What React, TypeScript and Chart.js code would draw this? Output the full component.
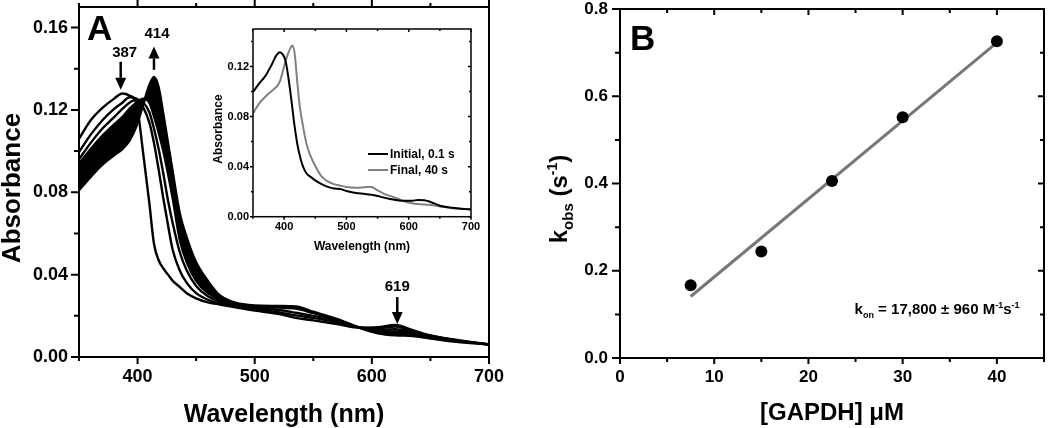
import React, { useEffect, useRef } from 'react';
import { Chart, registerables } from 'chart.js';

Chart.register(...registerables);

const FONT = "'Liberation Sans', Arial, Helvetica, sans-serif";

// ---------------- Panel A : spectra ----------------
const WAVELENGTH = [350, 360, 370, 380, 387, 393, 399, 405, 410, 414, 418, 422, 426, 430, 436, 442, 450, 460, 470, 480, 490, 500, 520, 535, 550, 570, 590, 605, 620, 635, 650, 670, 700];
const ABS_INITIAL = [0.106, 0.115, 0.121, 0.1255, 0.128, 0.127, 0.123, 0.098, 0.075, 0.055, 0.047, 0.043, 0.040, 0.037, 0.034, 0.031, 0.0285, 0.0265, 0.0255, 0.0245, 0.0235, 0.0225, 0.021, 0.019, 0.0178, 0.016, 0.0142, 0.0145, 0.0156, 0.013, 0.0105, 0.0085, 0.006];
const ABS_T2 = [0.0995, 0.108, 0.115, 0.1205, 0.1235, 0.1262, 0.1255, 0.121, 0.114, 0.104, 0.091, 0.077, 0.064, 0.052, 0.042, 0.036, 0.031, 0.0278, 0.026, 0.025, 0.024, 0.023, 0.0218, 0.0202, 0.019, 0.017, 0.0143, 0.014, 0.0148, 0.0126, 0.0103, 0.0083, 0.006];
const ABS_T3 = [0.096, 0.104, 0.111, 0.1165, 0.1205, 0.1235, 0.125, 0.1235, 0.119, 0.111, 0.101, 0.089, 0.076, 0.065, 0.051, 0.042, 0.0345, 0.0295, 0.027, 0.0256, 0.0246, 0.0238, 0.0228, 0.0215, 0.020, 0.0176, 0.0143, 0.0132, 0.0135, 0.012, 0.010, 0.0081, 0.0061];
const ABS_T4 = [0.094, 0.101, 0.1075, 0.113, 0.1165, 0.1205, 0.1235, 0.1255, 0.1235, 0.117, 0.109, 0.100, 0.089, 0.077, 0.057, 0.046, 0.037, 0.031, 0.0278, 0.0262, 0.0251, 0.0245, 0.024, 0.0235, 0.0213, 0.0183, 0.0142, 0.0126, 0.0124, 0.0115, 0.0098, 0.008, 0.0062];
const ABS_FINAL = [0.081, 0.0875, 0.0935, 0.098, 0.101, 0.105, 0.112, 0.123, 0.132, 0.136, 0.131, 0.118, 0.104, 0.090, 0.070, 0.058, 0.046, 0.037, 0.030, 0.027, 0.0256, 0.025, 0.0248, 0.0245, 0.022, 0.0185, 0.014, 0.0115, 0.0105, 0.0102, 0.009, 0.0075, 0.006];

const A_X_TICKS = [400, 500, 600, 700];
const A_X_MINOR = [350, 450, 550, 650];
const A_Y_TICKS = [0, 0.04, 0.08, 0.12, 0.16];
const A_Y_MINOR = [0.02, 0.06, 0.10, 0.14];
const PEAK_LABELS = ['387', '414', '619'];

// ---------------- Inset ----------------
const INSET_WL = [350, 360, 370, 380, 387, 393, 398, 402, 406, 410, 413, 417, 421, 425, 430, 436, 442, 450, 460, 470, 480, 490, 500, 515, 530, 540, 550, 560, 575, 590, 605, 615, 625, 635, 650, 670, 700];
const INSET_INITIAL = [0.0997, 0.1065, 0.1125, 0.1215, 0.1285, 0.1315, 0.1295, 0.125, 0.114, 0.0995, 0.0875, 0.0715, 0.0585, 0.049, 0.0405, 0.0345, 0.032, 0.029, 0.026, 0.0238, 0.0225, 0.0222, 0.0205, 0.019, 0.0182, 0.0175, 0.0165, 0.0153, 0.0137, 0.0128, 0.0128, 0.0133, 0.0132, 0.0118, 0.0088, 0.0072, 0.0058];
const INSET_FINAL = [0.0825, 0.0905, 0.096, 0.1005, 0.1035, 0.108, 0.1165, 0.124, 0.130, 0.1345, 0.1368, 0.130, 0.108, 0.0885, 0.0732, 0.058, 0.049, 0.0405, 0.0322, 0.0282, 0.026, 0.0248, 0.0238, 0.0232, 0.0236, 0.0238, 0.021, 0.0185, 0.0158, 0.0128, 0.0108, 0.0101, 0.0097, 0.0094, 0.0082, 0.0068, 0.0059];
const INSET_SERIES = ['Initial, 0.1 s', 'Final, 40 s'];
const IN_X_TICKS = [400, 500, 600, 700];
const IN_X_MINOR = [350, 450, 550, 650];
const IN_Y_TICKS = [0, 0.04, 0.08, 0.12];
const IN_Y_MINOR = [0.02, 0.06, 0.10, 0.14];

// ---------------- Panel B : kinetics ----------------
const GAPDH_UM = [7.5, 15, 22.5, 30, 40];
const KOBS = [0.167, 0.244, 0.406, 0.552, 0.726];
const FIT_X = [7.5, 40];
const FIT_Y = [0.141, 0.723];
const B_X_TICKS = [0, 10, 20, 30, 40];
const B_X_MINOR = [5, 15, 25, 35, 45];
const B_Y_TICKS = [0, 0.2, 0.4, 0.6, 0.8];
const B_Y_MINOR = [0.1, 0.3, 0.5, 0.7];

const pts = (xs: number[], ys: number[]) => xs.map((x, i) => ({ x, y: ys[i] }));

type Part = { t: string; size: number; dy?: number };
function drawRich(ctx: CanvasRenderingContext2D, parts: Part[], x: number, y: number, rot: number, align: 'left' | 'center') {
  ctx.save();
  ctx.translate(x, y);
  if (rot) ctx.rotate(rot);
  ctx.fillStyle = '#000';
  ctx.textAlign = 'left';
  ctx.textBaseline = 'alphabetic';
  let total = 0;
  const widths = parts.map((p) => {
    ctx.font = `bold ${p.size}px ${FONT}`;
    const w = ctx.measureText(p.t).width;
    total += w;
    return w;
  });
  let cx = align === 'center' ? -total / 2 : 0;
  parts.forEach((p, i) => {
    ctx.font = `bold ${p.size}px ${FONT}`;
    ctx.fillText(p.t, cx, p.dy || 0);
    cx += widths[i];
  });
  ctx.restore();
}

function drawArrow(ctx: CanvasRenderingContext2D, x: number, yTail: number, yTip: number) {
  const dir = yTip > yTail ? 1 : -1;
  const head = 12;
  const hw = 5.5;
  ctx.save();
  ctx.strokeStyle = '#000';
  ctx.fillStyle = '#000';
  ctx.lineWidth = 2.5;
  ctx.beginPath();
  ctx.moveTo(x, yTail);
  ctx.lineTo(x, yTip - dir * head);
  ctx.stroke();
  ctx.beginPath();
  ctx.moveTo(x, yTip);
  ctx.lineTo(x - hw, yTip - dir * head);
  ctx.lineTo(x + hw, yTip - dir * head);
  ctx.closePath();
  ctx.fill();
  ctx.restore();
}

type SideSpec = { major: number; minor: number; out: boolean } | null;
interface FrameSpec {
  lineWidth: number;
  xMajor: number[];
  xMinor: number[];
  yMajor: number[];
  yMinor: number[];
  left: SideSpec;
  right: SideSpec;
  top: SideSpec;
  bottom: SideSpec;
}

function makeFrame(f: FrameSpec) {
  return {
    id: 'frame',
    afterDatasetsDraw(chart: any) {
      const { ctx, chartArea: ca } = chart;
      const xs = chart.scales.x;
      const ys = chart.scales.y;
      ctx.save();
      ctx.strokeStyle = '#000';
      ctx.lineWidth = f.lineWidth;
      ctx.strokeRect(ca.left, ca.top, ca.right - ca.left, ca.bottom - ca.top);
      ctx.beginPath();
      const hor = (s: SideSpec, y0: number, outDir: number) => {
        if (!s) return;
        const d = s.out ? outDir : -outDir;
        f.xMajor.forEach((v) => { const p = xs.getPixelForValue(v); ctx.moveTo(p, y0); ctx.lineTo(p, y0 + d * s.major); });
        f.xMinor.forEach((v) => { const p = xs.getPixelForValue(v); ctx.moveTo(p, y0); ctx.lineTo(p, y0 + d * s.minor); });
      };
      const ver = (s: SideSpec, x0: number, outDir: number) => {
        if (!s) return;
        const d = s.out ? outDir : -outDir;
        f.yMajor.forEach((v) => { const p = ys.getPixelForValue(v); ctx.moveTo(x0, p); ctx.lineTo(x0 + d * s.major, p); });
        f.yMinor.forEach((v) => { const p = ys.getPixelForValue(v); ctx.moveTo(x0, p); ctx.lineTo(x0 + d * s.minor, p); });
      };
      hor(f.bottom, ca.bottom, 1);
      hor(f.top, ca.top, -1);
      ver(f.left, ca.left, -1);
      ver(f.right, ca.right, 1);
      ctx.stroke();
      ctx.restore();
    },
  };
}

function axis(opts: {
  min: number; max: number; ticks: number[]; fmt: (v: number) => string; size: number;
  tickLength: number; padding: number; fitW?: number; fitH?: number;
}) {
  return {
    type: 'linear' as const,
    min: opts.min,
    max: opts.max,
    afterBuildTicks: (s: any) => { s.ticks = opts.ticks.map((value) => ({ value })); },
    afterFit: (s: any) => {
      if (opts.fitW !== undefined) s.width = opts.fitW;
      if (opts.fitH !== undefined) s.height = opts.fitH;
    },
    grid: { display: true, drawOnChartArea: false, drawTicks: true, tickLength: opts.tickLength, color: 'rgba(0,0,0,0)' },
    border: { display: false },
    ticks: {
      padding: opts.padding,
      autoSkip: false,
      maxRotation: 0,
      minRotation: 0,
      color: '#000',
      font: { size: opts.size, weight: 'bold' as const, family: FONT },
      callback: (v: any) => opts.fmt(Number(v)),
    },
  };
}

const baseOpts = {
  animation: false as const,
  responsive: false,
  maintainAspectRatio: false,
  events: [] as any[],
  plugins: { legend: { display: false }, tooltip: { enabled: false } },
};

function configA(): any {
  const line = (label: string, ys: number[], extra: any = {}) => ({
    label,
    data: pts(WAVELENGTH, ys),
    borderColor: '#000',
    borderWidth: 2.4,
    pointRadius: 0,
    cubicInterpolationMode: 'monotone',
    fill: false,
    ...extra,
  });
  const decor = {
    id: 'decorA',
    afterDraw(chart: any) {
      const { ctx, chartArea: ca } = chart;
      const xs = chart.scales.x;
      const ys = chart.scales.y;
      drawRich(ctx, [{ t: 'A', size: 35 }], ca.left + 8, ca.top + 33, 0, 'left');
      drawRich(ctx, [{ t: 'Absorbance', size: 26 }], ca.left - 59, ca.top + 181, -Math.PI / 2, 'center');
      drawRich(ctx, [{ t: 'Wavelength (nm)', size: 25 }], (ca.left + ca.right) / 2, ca.bottom + 65, 0, 'center');
      const geo = [
        { wl: 385.6, tail: 0.1434, tip: 0.1298, dx: 4, gap: 5 },
        { wl: 414, tail: 0.1395, tip: 0.1508, dx: 3, gap: 9 },
        { wl: 621.7, tail: 0.0291, tip: 0.016, dx: 0, gap: 6 },
      ];
      geo.forEach((g, i) => {
        const px = xs.getPixelForValue(g.wl);
        const pTail = ys.getPixelForValue(g.tail);
        const pTip = ys.getPixelForValue(g.tip);
        drawArrow(ctx, px, pTail, pTip);
        drawRich(ctx, [{ t: PEAK_LABELS[i], size: 15 }], px + g.dx, Math.min(pTail, pTip) - g.gap, 0, 'center');
      });
    },
  };
  return {
    type: 'line',
    data: {
      datasets: [
        line('initial', ABS_INITIAL),
        line('t2', ABS_T2),
        line('t3', ABS_T3),
        line('t4', ABS_T4, { fill: { target: 4 }, backgroundColor: '#000' }),
        line('final', ABS_FINAL),
      ],
    },
    options: {
      ...baseOpts,
      layout: { padding: { top: 27, right: 41, left: 0, bottom: 0 } },
      scales: {
        x: axis({ min: 350, max: 700, ticks: A_X_TICKS, fmt: (v) => String(v), size: 18, tickLength: 7, padding: 2, fitH: 71 }),
        y: axis({ min: 0, max: 0.17, ticks: A_Y_TICKS, fmt: (v) => v.toFixed(2), size: 18, tickLength: 8, padding: 3, fitW: 79 }),
      },
    },
    plugins: [
      makeFrame({
        lineWidth: 2,
        xMajor: A_X_TICKS, xMinor: A_X_MINOR, yMajor: A_Y_TICKS, yMinor: A_Y_MINOR,
        left: { major: 8, minor: 5, out: true },
        bottom: { major: 7, minor: 4, out: true },
        top: { major: 7, minor: 4, out: true },
        right: null,
      }),
      decor,
    ],
  };
}

function configInset(): any {
  const colors = ['#000', '#808080'];
  const decor = {
    id: 'decorInset',
    afterDraw(chart: any) {
      const { ctx, chartArea: ca } = chart;
      drawRich(ctx, [{ t: 'Absorbance', size: 12 }], ca.left - 31, ca.top + 100, -Math.PI / 2, 'center');
      drawRich(ctx, [{ t: 'Wavelength (nm)', size: 12 }], (ca.left + ca.right) / 2, ca.bottom + 33.5, 0, 'center');
      INSET_SERIES.forEach((label, i) => {
        const y = ca.top + 125 + i * 16;
        ctx.save();
        ctx.strokeStyle = colors[i];
        ctx.lineWidth = 2;
        ctx.beginPath();
        ctx.moveTo(ca.left + 115, y);
        ctx.lineTo(ca.left + 135, y);
        ctx.stroke();
        ctx.restore();
        drawRich(ctx, [{ t: label, size: 12 }], ca.left + 137, y + 4, 0, 'left');
      });
    },
  };
  return {
    type: 'line',
    data: {
      datasets: [
        { label: INSET_SERIES[0], data: pts(INSET_WL, INSET_INITIAL), borderColor: colors[0], borderWidth: 2, pointRadius: 0, cubicInterpolationMode: 'monotone', fill: false },
        { label: INSET_SERIES[1], data: pts(INSET_WL, INSET_FINAL), borderColor: colors[1], borderWidth: 2, pointRadius: 0, cubicInterpolationMode: 'monotone', fill: false },
      ],
    },
    options: {
      ...baseOpts,
      layout: { padding: { top: 29, right: 14, left: 0, bottom: 0 } },
      scales: {
        x: axis({ min: 350, max: 700, ticks: IN_X_TICKS, fmt: (v) => String(v), size: 11, tickLength: 3, padding: 1, fitH: 45.3 }),
        y: axis({ min: 0, max: 0.15, ticks: IN_Y_TICKS, fmt: (v) => v.toFixed(2), size: 11, tickLength: 3, padding: 1, fitW: 53 }),
      },
    },
    plugins: [
      makeFrame({
        lineWidth: 1.5,
        xMajor: IN_X_TICKS, xMinor: IN_X_MINOR, yMajor: IN_Y_TICKS, yMinor: IN_Y_MINOR,
        left: { major: 3, minor: 2, out: true },
        bottom: { major: 3, minor: 2, out: true },
        top: { major: 3, minor: 2, out: false },
        right: { major: 3, minor: 2, out: false },
      }),
      decor,
    ],
  };
}

function configB(): any {
  const decor = {
    id: 'decorB',
    afterDraw(chart: any) {
      const { ctx, chartArea: ca } = chart;
      const xs = chart.scales.x;
      const ys = chart.scales.y;
      drawRich(ctx, [{ t: 'B', size: 35 }], ca.left + 10, ca.top + 41, 0, 'left');
      drawRich(
        ctx,
        [
          { t: 'k', size: 24 },
          { t: 'obs', size: 15, dy: 6 },
          { t: ' (s', size: 24 },
          { t: '-1', size: 14, dy: -10 },
          { t: ')', size: 24 },
        ],
        ca.left - 53,
        ca.top + 190,
        -Math.PI / 2,
        'center'
      );
      drawRich(ctx, [{ t: '[GAPDH] \u03bcM', size: 24 }], (ca.left + ca.right) / 2, ca.bottom + 62, 0, 'center');
      drawRich(
        ctx,
        [
          { t: 'k', size: 15 },
          { t: 'on', size: 9, dy: 4 },
          { t: ' = 17,800 \u00b1 960 M', size: 15 },
          { t: '-1', size: 9, dy: -6 },
          { t: 's', size: 15 },
          { t: '-1', size: 9, dy: -6 },
        ],
        xs.getPixelForValue(24.9),
        ys.getPixelForValue(0.1),
        0,
        'left'
      );
    },
  };
  return {
    type: 'scatter',
    data: {
      datasets: [
        { label: 'kobs', data: pts(GAPDH_UM, KOBS), pointRadius: 6, pointBackgroundColor: '#000', pointBorderWidth: 0, showLine: false },
        { label: 'fit', data: pts(FIT_X, FIT_Y), showLine: true, borderColor: '#777', borderWidth: 3, pointRadius: 0, fill: false },
      ],
    },
    options: {
      ...baseOpts,
      layout: { padding: { top: 29, right: 1, left: 0, bottom: 0 } },
      scales: {
        x: axis({ min: 0, max: 45, ticks: B_X_TICKS, fmt: (v) => String(v), size: 17, tickLength: 6, padding: 3, fitH: 70 }),
        y: axis({ min: 0, max: 0.8, ticks: B_Y_TICKS, fmt: (v) => v.toFixed(1), size: 17, tickLength: 8, padding: 4, fitW: 90 }),
      },
    },
    plugins: [
      makeFrame({
        lineWidth: 2,
        xMajor: B_X_TICKS, xMinor: B_X_MINOR, yMajor: B_Y_TICKS, yMinor: B_Y_MINOR,
        left: { major: 8, minor: 5, out: true },
        bottom: { major: 6, minor: 4, out: true },
        top: { major: 6, minor: 4, out: false },
        right: { major: 6, minor: 4, out: false },
      }),
      decor,
    ],
  };
}

export default function App() {
  const aRef = useRef<HTMLCanvasElement>(null);
  const iRef = useRef<HTMLCanvasElement>(null);
  const bRef = useRef<HTMLCanvasElement>(null);

  useEffect(() => {
    Chart.defaults.font.family = FONT;
    const charts = [
      new Chart(aRef.current as HTMLCanvasElement, configA()),
      new Chart(iRef.current as HTMLCanvasElement, configInset()),
      new Chart(bRef.current as HTMLCanvasElement, configB()),
    ];
    return () => charts.forEach((c) => c.destroy());
  }, []);

  return (
    <div style={{ position: 'fixed', left: 0, top: 0, width: 1050, height: 428, background: '#fff', overflow: 'hidden' }}>
      <canvas ref={aRef} width={530} height={448} style={{ position: 'absolute', left: 0, top: -20, width: 530, height: 448 }} />
      <canvas ref={iRef} width={285} height={262} style={{ position: 'absolute', left: 200, top: 0, width: 285, height: 262 }} />
      <canvas ref={bRef} width={520} height={448} style={{ position: 'absolute', left: 530, top: -20, width: 520, height: 448 }} />
    </div>
  );
}
